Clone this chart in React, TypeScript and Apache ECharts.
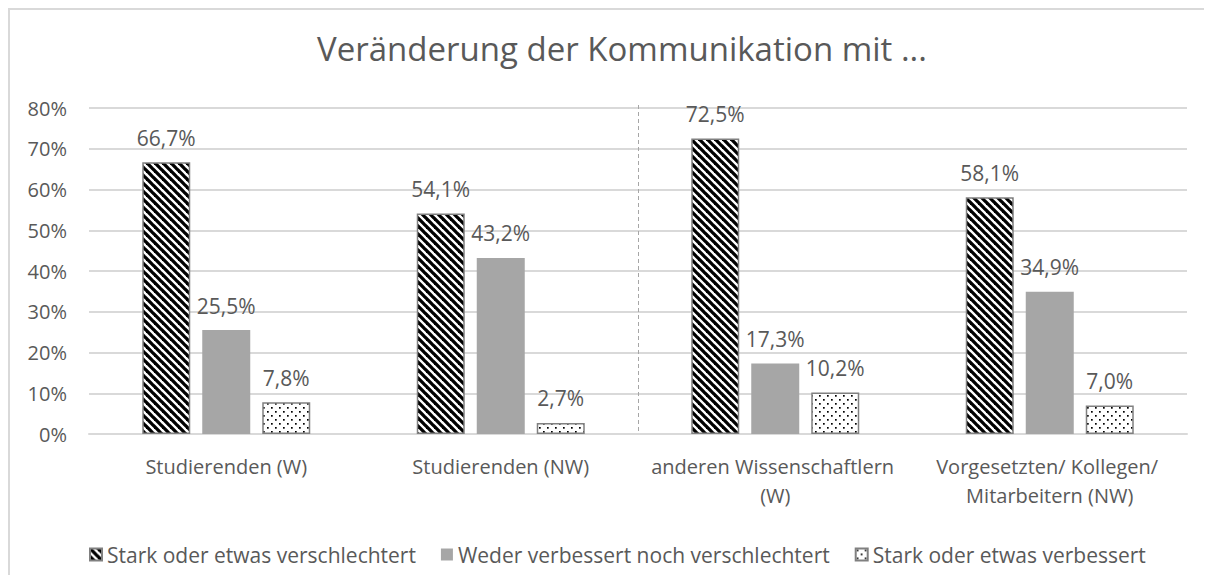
import React, { useEffect, useRef } from 'react';
import * as echarts from 'echarts';

const categories = [
  'Studierenden (W)',
  'Studierenden (NW)',
  'anderen Wissenschaftlern (W)',
  'Vorgesetzten/ Kollegen/ Mitarbeitern (NW)',
];
const seriesNames = [
  'Stark oder etwas verschlechtert',
  'Weder verbessert noch verschlechtert',
  'Stark oder etwas verbessert',
];
const worse = [66.7, 54.1, 72.5, 58.1];
const neutral = [25.5, 43.2, 17.3, 34.9];
const better = [7.8, 2.7, 10.2, 7.0];
const yMax = 80;
const yStep = 10;
// dashed separator sits between these two category indices
const separatorBetween = [1, 2];

const FONT = "'Open Sans', sans-serif";
const TEXT = '#595959';

function stripePattern() {
  const c = document.createElement('canvas');
  c.width = 8;
  c.height = 8;
  const ctx = c.getContext('2d')!;
  ctx.fillStyle = '#ffffff';
  ctx.fillRect(0, 0, 8, 8);
  ctx.strokeStyle = '#000000';
  ctx.lineWidth = 3.3;
  for (const off of [-8, 0, 8]) {
    ctx.beginPath();
    ctx.moveTo(off - 2, -2);
    ctx.lineTo(off + 10, 10);
    ctx.stroke();
  }
  return { image: c.toDataURL(), imageWidth: 8, imageHeight: 8, repeat: 'repeat' };
}

function dotPattern() {
  const c = document.createElement('canvas');
  c.width = 8;
  c.height = 8;
  const ctx = c.getContext('2d')!;
  ctx.fillStyle = '#ffffff';
  ctx.fillRect(0, 0, 8, 8);
  ctx.fillStyle = '#000000';
  ctx.fillRect(1, 1, 1.7, 1.7);
  ctx.fillRect(5, 5, 1.7, 1.7);
  return { image: c.toDataURL(), imageWidth: 8, imageHeight: 8, repeat: 'repeat' };
}

const fmt = (p: any) => p.value.toFixed(1).replace('.', ',') + '%';

export default function App() {
  const ref = useRef<HTMLDivElement>(null);
  useEffect(() => {
    if (!ref.current) return;
    const chart = echarts.init(ref.current, undefined, { renderer: 'svg' });
    const label = {
      show: true,
      position: 'top',
      distance: 14,
      formatter: fmt,
      fontFamily: FONT,
      fontSize: 21,
      color: TEXT,
    };
    chart.setOption({
      animation: false,
      textStyle: { fontFamily: FONT },
      title: {
        text: 'Veränderung der Kommunikation mit ...',
        left: 607,
        textAlign: 'center',
        top: 17,
        textStyle: { fontFamily: FONT, fontSize: 33, fontWeight: 'normal', color: TEXT },
      },
      legend: {
        data: seriesNames,
        top: 534,
        left: 79,
        padding: 0,
        icon: 'rect',
        itemWidth: 12,
        itemHeight: 12,
        itemGap: 25,
        textStyle: { fontFamily: FONT, fontSize: 21, color: TEXT },
      },
      grid: { left: 79, right: 17, top: 98, bottom: 139, containLabel: false },
      xAxis: {
        type: 'category',
        data: categories,
        axisLine: { lineStyle: { color: '#d9d9d9', width: 2 } },
        axisTick: { show: false },
        axisLabel: {
          fontFamily: FONT,
          fontSize: 20,
          color: TEXT,
          margin: 18,
          lineHeight: 29,
          width: 262,
          overflow: 'break',
          interval: 0,
        },
      },
      yAxis: {
        type: 'value',
        min: 0,
        max: yMax,
        interval: yStep,
        axisLine: { show: false },
        axisTick: { show: false },
        splitLine: { lineStyle: { color: '#d9d9d9', width: 2 } },
        axisLabel: {
          formatter: '{value}%',
          fontFamily: FONT,
          fontSize: 20,
          color: TEXT,
          margin: 22,
        },
      },
      series: [
        {
          name: seriesNames[0],
          type: 'bar',
          data: worse,
          barWidth: 48,
          barGap: '25%',
          itemStyle: { color: stripePattern(), borderColor: '#808080', borderWidth: 1.5 },
          label,
        },
        {
          name: seriesNames[1],
          type: 'bar',
          data: neutral,
          barWidth: 48,
          barGap: '25%',
          itemStyle: { color: '#a6a6a6' },
          label,
        },
        {
          name: seriesNames[2],
          type: 'bar',
          data: better,
          barWidth: 48,
          barGap: '25%',
          itemStyle: { color: dotPattern(), borderColor: '#808080', borderWidth: 1.5 },
          label,
        },
      ],
    });
    const xa = chart.convertToPixel({ xAxisIndex: 0 }, separatorBetween[0]) as number;
    const xb = chart.convertToPixel({ xAxisIndex: 0 }, separatorBetween[1]) as number;
    const yTop = chart.convertToPixel({ yAxisIndex: 0 }, yMax) as number;
    const yBot = chart.convertToPixel({ yAxisIndex: 0 }, 0) as number;
    const xs = Math.round((xa + xb) / 2) + 0.5;
    chart.setOption({
      graphic: [
        {
          type: 'line',
          shape: { x1: xs, y1: yTop - 3, x2: xs, y2: yBot },
          style: { stroke: '#a6a6a6', lineWidth: 1, lineDash: [4, 3] },
          z: 1,
        },
      ],
    });
    return () => chart.dispose();
  }, []);
  return (
    <div style={{ borderTop: '2px solid #d9d9d9', borderLeft: '2px solid #d9d9d9', width: 1196, height: 565 }}>
      <div ref={ref} style={{ width: 1194, height: 563 }} />
    </div>
  );
}
